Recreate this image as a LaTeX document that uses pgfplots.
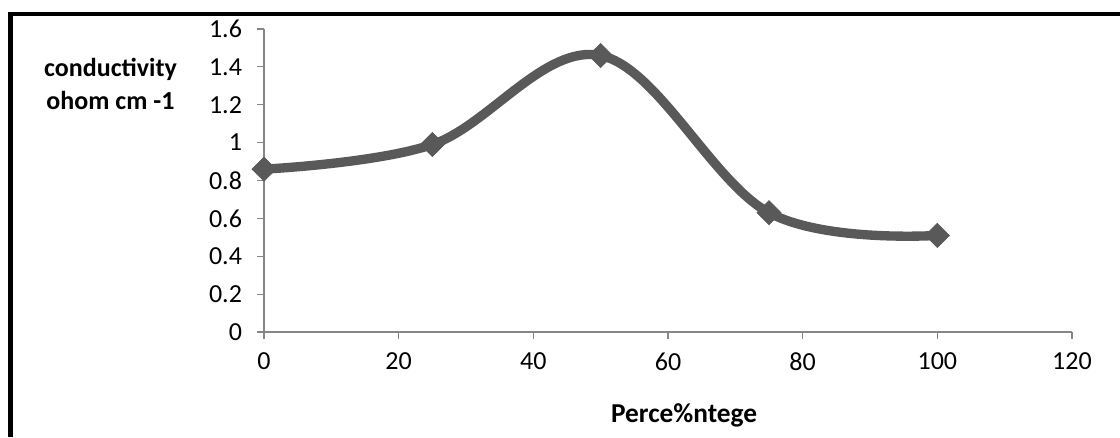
\documentclass[border=0pt]{standalone}
\usepackage{pgfplots}
\pgfplotsset{compat=1.18}
\usepackage{fontspec}
\setmainfont{Carlito}
\definecolor{axgray}{HTML}{868686}
\definecolor{linegray}{HTML}{595959}
\begin{document}
\begin{tikzpicture}
\useasboundingbox (0pt,0pt) rectangle (840pt,327.75pt);
\draw[line width=3.5pt,black] (7.9pt,0pt) -- (7.9pt,317.25pt);
\draw[line width=3pt,black] (6pt,317.25pt) -- (840pt,317.25pt);
\begin{axis}[
  at={(198pt,78.75pt)}, anchor=origin,
  scale only axis, width=606pt, height=227.25pt,
  xmin=0, xmax=120, ymin=0, ymax=1.6,
  xtick={0,20,...,120}, ytick={0,0.2,...,1.6},
  axis lines=left, axis line style={axgray, line width=0.9pt, -},
  tick style={axgray, line width=0.9pt}, tick align=outside,
  major tick length=5pt,
  /pgf/number format/assume math mode=true,
  ticklabel style={font=\fontsize{19.5}{23}\selectfont, black},
  yticklabel style={xshift=-8pt},
  xticklabel style={yshift=-7pt},
  clip=false,
  xlabel={\textbf{Perce\%ntege}},
  ylabel={\textbf{conductivity}\\\textbf{ohom cm -1}},
  label style={font=\fontsize{19.5}{24.5}\selectfont},
  xlabel style={at={(axis description cs:0.52,-0.274)}, anchor=center, font=\fontsize{20.5}{24.5}\selectfont},
  ylabel style={at={(axis description cs:-0.19,0.818)}, anchor=center, rotate=-90, align=center},
]
\addplot[linegray, line width=7pt, smooth, tension=0.6, mark=square*, mark size=6.4pt, mark options={linegray, line width=0.5pt, fill=linegray, rotate=45}]
coordinates {(0,0.86) (25,0.99) (50,1.46) (75,0.63) (100,0.51)};
\end{axis}
\end{tikzpicture}
\end{document}
